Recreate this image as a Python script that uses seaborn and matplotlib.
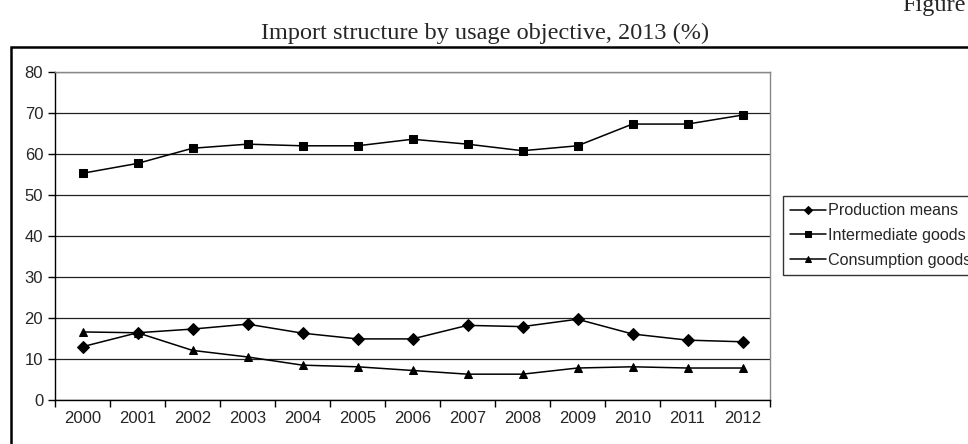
import pandas as pd
import seaborn as sns
import matplotlib.pyplot as plt
from matplotlib.patches import Rectangle
from matplotlib.ticker import FixedLocator, NullFormatter

# values
years = ["2000", "2001", "2002", "2003", "2004", "2005", "2006",
         "2007", "2008", "2009", "2010", "2011", "2012"]
production = [13.0, 16.4, 17.3, 18.5, 16.3, 14.9, 14.9, 18.2, 17.9, 19.7, 16.1, 14.6, 14.2]
intermediate = [55.3, 57.7, 61.4, 62.4, 62.0, 62.0, 63.6, 62.4, 60.8, 62.0, 67.3, 67.3, 69.5]
consumption = [16.6, 16.4, 12.1, 10.5, 8.5, 8.1, 7.2, 6.3, 6.3, 7.8, 8.1, 7.8, 7.8]
series_names = ["Production means", "Intermediate goods", "Consumption goods"]

df = pd.DataFrame({
    "year": years * 3,
    "value": production + intermediate + consumption,
    "series": [series_names[0]] * 13 + [series_names[1]] * 13 + [series_names[2]] * 13,
})

sns.set_style("white")
plt.rcParams["font.family"] = ["Liberation Sans", "DejaVu Sans"]

fig = plt.figure(figsize=(9.68, 4.44), dpi=100)
ax = fig.add_axes([55 / 968, 1 - 400 / 444, (770 - 55) / 968, (400 - 72) / 444])

sns.lineplot(data=df, x="year", y="value", hue="series", style="series",
             palette=["black"] * 3, markers={series_names[0]: "D", series_names[1]: "s", series_names[2]: "^"},
             dashes=False, markersize=6, linewidth=1.1, markeredgecolor="black", ax=ax)

ax.set_xlim(-0.5, 12.5)
ax.set_ylim(0, 80)
ax.set_yticks(range(0, 81, 10))
ax.grid(axis="y", color="#222222", linewidth=0.9)
ax.set_axisbelow(True)

# tick marks sit between years, labels in the middle of each slot
ax.xaxis.set_major_locator(FixedLocator([i - 0.5 for i in range(14)]))
ax.xaxis.set_major_formatter(NullFormatter())
ax.xaxis.set_minor_locator(FixedLocator(range(13)))
ax.set_xticklabels(years, minor=True)
ax.tick_params(axis="x", which="major", direction="out", length=5, width=1, color="black", bottom=True)
ax.tick_params(axis="x", which="minor", length=0, labelsize=12, pad=8)
ax.tick_params(axis="y", direction="out", length=5, width=1, color="black", left=True, labelsize=12)
ax.set_xlabel("")
ax.set_ylabel("")

for side in ["left", "bottom"]:
    ax.spines[side].set_color("black")
    ax.spines[side].set_linewidth(1)
for side in ["top", "right"]:
    ax.spines[side].set_color("#888888")
    ax.spines[side].set_linewidth(1)

handles, labels = ax.get_legend_handles_labels()
for h in handles:
    h.set_markersize(4.5)
leg = ax.legend(handles, labels, loc="upper left", bbox_to_anchor=(783 / 968, 1 - 196 / 444),
                bbox_transform=fig.transFigure, frameon=True, fancybox=False, fontsize=11.6,
                handlelength=2.2, handletextpad=0.15, labelspacing=0.6, borderpad=0.45,
                borderaxespad=0)
leg.get_frame().set_edgecolor("black")
leg.get_frame().set_linewidth(1)

# outer frame of the chart area
fig.patches.append(Rectangle((11 / 968, -0.1), 1.1, 1 - 47 / 444 + 0.1, transform=fig.transFigure,
                             fill=False, edgecolor="black", linewidth=1.8, clip_on=False))

fig.text(485 / 968, 1 - 33 / 444, "Import structure by usage objective, 2013 (%)",
         family="Liberation Serif", fontsize=17.5, ha="center", va="center")
fig.text(966 / 968, 1 - 6 / 444, "Figure", family="Liberation Serif", fontsize=17.5,
         ha="right", va="center")

fig.savefig("out.png", dpi=100)
